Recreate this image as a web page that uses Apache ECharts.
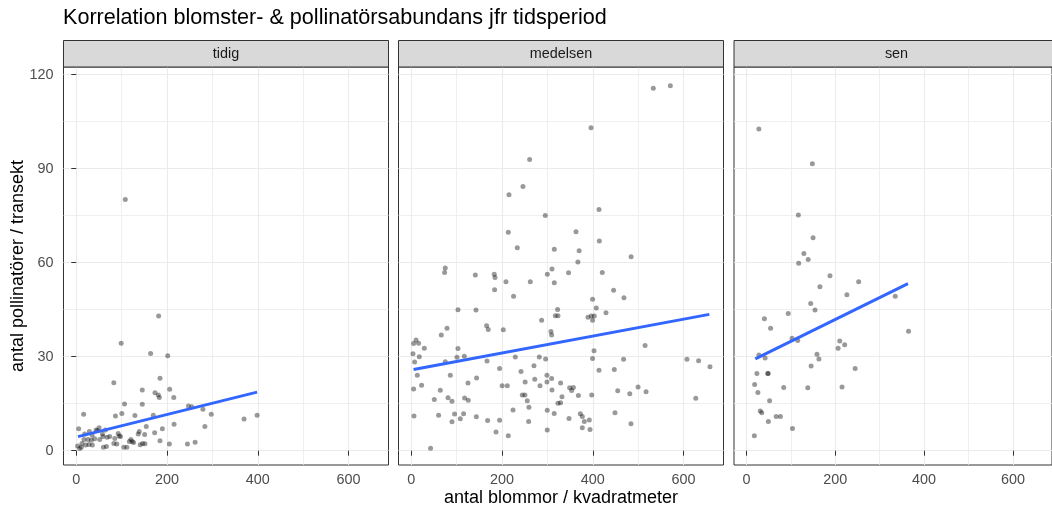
<!DOCTYPE html>
<html><head><meta charset="utf-8">
<script src="https://cdn.jsdelivr.net/npm/echarts@6/dist/echarts.min.js"></script>
<style>html,body{margin:0;padding:0;background:#fff}#c{width:1052px;height:512px}</style>
</head><body><div id="c"></div>
<script>
const panelNames = ['tidig', 'medelsen', 'sen'];
const xTicks = [0, 200, 400, 600];
const xMinor = [100, 300, 500];
const yTicks = [0, 30, 60, 90, 120];
const yMinor = [15, 45, 75, 105];

const tidigPoints = [[181.5,43.0],[98.9,34.3],[163.8,31.0],[201.5,30.3],[82.7,21.7],[184.5,23.1],[145.4,19.4],[205.9,19.6],[173.4,18.5],[180.8,17.8],[183,17.0],[214.8,17.0],[106.3,14.9],[145.4,14.8],[247.2,14.3],[254.6,14.0],[279,13.2],[297.4,11.6],[100.4,11.9],[86.3,11.1],[129.2,11.2],[16.2,11.6],[169.7,11.3],[369.7,10.1],[398.5,11.3],[283.4,7.7],[215.5,8.4],[189.7,7.0],[154.2,7.7],[5.2,7.0],[50.2,7.3],[43.5,6.6],[64.2,6.6],[28.8,6.1],[57.6,5.3],[73.8,4.5],[92.3,5.5],[94.5,4.7],[97.4,4.5],[120.3,3.6],[123.2,2.9],[126.2,2.6],[136.5,5.3],[138.7,6.1],[150.6,5.2],[172.7,5.7],[184.5,3.2],[205.2,2.1],[245,2.1],[261.9,2.7],[151.3,2.2],[140.9,1.9],[146.1,2.3],[104.8,1.1],[111.4,1.1],[59.8,1.1],[66.4,1.3],[82.7,2.3],[89.3,2.1],[35.4,1.8],[28,2.0],[20.7,1.8],[12.5,2.3],[3,1.5],[7.4,0.7],[11.1,1.1],[17,3.6],[25.8,3.6],[33.2,3.4],[40.6,3.8],[51.7,3.6],[59,4.5],[67.9,4.3],[84.9,3.9],[116.9,2.9],[18.5,5.3],[34.7,5.0],[46.5,6.4],[108,80.2]];

const medelsenPoints = [[260.8,92.9],[246.1,84.3],[215.3,81.7],[295.3,75.1],[213.8,69.7],[233.6,64.8],[315.2,64.3],[74.9,58.3],[310.1,58.0],
[533.4,115.7],[570.9,116.5],[396.1,103.1],[413.7,77.0],[363,69.9],[414.4,66.9],[369.9,63.8],[484.5,61.9],[367.2,60.2],
[73.4,56.9],[141.1,56.1],[182.9,56.3],[184.5,55.3],[208.7,53.9],[183.6,51.4],[262.3,53.9],[299.8,56.3],[315.2,53.6],[225.4,49.3],[102.9,45.0],[142.6,44.9],[78.7,39.1],[66.1,36.9],[166,39.9],[169.6,38.7],[202.8,38.6],[287.2,41.6],[322.5,45.1],[317.4,43.1],[323.3,43.1],[307.9,38.0],[309.3,36.9],[5.1,34.2],[10.4,35.3],[16.1,34.3],[28.7,32.7],[3.7,30.9],[17.6,30.0],[7.3,28.3],[13.2,24.1],[5.1,19.7],[22.7,20.9],[74.9,28.4],[102.9,32.6],[100.7,29.8],[116.8,30.1],[86,24.1],[166.9,28.6],[194.6,26.2],[229.2,29.9],[282.1,29.9],[296,29.3],[241.8,25.3],[270.4,27.1],[299,24.1],[309.3,23.0],[283.7,20.7],[299,21.9],[310.1,19.4],[329.1,21.6],[272.1,22.8],[250.9,21.9],[200.2,20.7],[211.6,20.7],[143.9,23.2],[125,21.6],[63.9,19.3],[80.9,16.9],[89.7,15.8],[50.7,16.3],[117.5,16.8],[125.6,16.1],[244.6,17.8],[250.5,17.8],[255.6,15.9],[259.3,13.9],[323.3,15.1],[329.1,15.3],[332.1,17.2],[299.6,12.9],[315,11.9],[224.2,13.0],[5.9,11.1],[60.2,11.3],[95.4,11.7],[115.3,11.8],[108,10.2],[89.7,9.2],[143.3,10.8],[168.2,9.6],[194.6,9.7],[186.7,6.0],[213.8,4.8],[258.6,9.3],[299.6,6.6],[42.5,0.8],
[346.6,56.8],[420.9,56.9],[445.8,51.2],[468.7,48.8],[399.5,48.3],[407.7,45.5],[429.1,44.0],[389.4,42.6],[396.7,43.0],[403.3,43.0],[399.5,41.6],[515.3,33.6],[402.7,31.9],[399.5,29.4],[467.9,29.2],[413.7,25.7],[447.4,25.9],[607.6,29.2],[633.2,28.7],[658.3,26.8],[627,16.7],[349,20.1],[357.2,20.2],[353.4,19.2],[368.3,17.6],[397.6,17.8],[455,19.1],[481.5,18.2],[499.8,20.3],[517.4,18.8],[448.9,12.1],[484.2,8.6],[347.6,10.3],[372.5,11.8],[376.9,10.9],[381.3,9.3],[392.3,9.8],[376.9,7.3],[393.9,6.8]];

const senPoints = [[27.8,102.7],[148.3,91.6],[116.8,75.2],[149.9,68.0],[129.2,62.9],[138.9,61.0],[117.5,59.8],[188,55.8],[252.6,53.9],[165.3,52.3],[226.1,49.8],[335,49.3],[144.6,47.0],[154.3,44.9],[93.9,43.8],[40.3,42.1],[54.2,39.1],[365,38.1],[102.7,35.9],[115.3,35.2],[210,35.0],[221.1,33.8],[206.3,32.7],[158.7,30.8],[163.1,29.3],[27.8,30.5],[41.9,29.6],[145.5,27.0],[244.7,26.2],[23.4,24.6],[47.6,24.6],[49,24.6],[18.3,21.1],[25.6,18.6],[83.8,20.2],[138,20.1],[215.1,20.3],[52,15.9],[30.9,12.7],[34.4,12.1],[66.8,10.9],[76.3,10.9],[49.2,9.3],[103.6,7.1],[17.6,4.8]];

const tidigFit = [[3.7,4.5],[398.5,18.7]];
const medelsenFit = [[5,25.9],[656.8,43.5]];
const senFit = [[19.8,29.3],[363.7,53.3]];

const pointsByPanel = [tidigPoints, medelsenPoints, senPoints];
const fitByPanel = [tidigFit, medelsenFit, senFit];

const FONT = '"Liberation Sans", Arial, Helvetica, sans-serif';
const lefts = [63.5, 398.5, 734];
const W = 325, TOP = 67, H = 398;
const XMIN = -28.2, XMAX = 688.1, YMIN = -4.57, YMAX = 122.46;
const GRID = '#EBEBEB';

const grid = [], xAxis = [], yAxis = [], series = [], graphic = [];
lefts.forEach((l, i) => {
  grid.push({left: l, top: TOP, width: W, height: H, show: true, borderColor: '#333', borderWidth: 1, backgroundColor: '#fff'});
  // major x axis
  xAxis.push({type: 'value', gridIndex: i, min: XMIN, max: XMAX, position: 'bottom',
    axisLine: {show: false},
    axisTick: {show: true, length: 5, lineStyle: {color: '#333', width: 1}, customValues: xTicks},
    axisLabel: {show: true, customValues: xTicks, margin: 8, color: '#4D4D4D', fontSize: 14.4, fontFamily: FONT},
    splitLine: {show: true, lineStyle: {color: GRID, width: 1.1}}
  });
  // minor x axis
  xAxis.push({type: 'value', gridIndex: i, min: XMIN, max: XMAX, position: 'top',
    axisLine: {show: false}, axisLabel: {show: false},
    axisTick: {show: false, customValues: xMinor},
    splitLine: {show: true, lineStyle: {color: GRID, width: 0.8}}
  });
  yAxis.push({type: 'value', gridIndex: i, min: YMIN, max: YMAX, position: 'left',
    axisLine: {show: false},
    axisTick: {show: i === 0, length: 5, lineStyle: {color: '#333', width: 1}, customValues: yTicks},
    axisLabel: {show: i === 0, customValues: yTicks, margin: 10, color: '#4D4D4D', fontSize: 14.4, fontFamily: FONT},
    splitLine: {show: true, lineStyle: {color: GRID, width: 1.1}}
  });
  yAxis.push({type: 'value', gridIndex: i, min: YMIN, max: YMAX, position: 'right',
    axisLine: {show: false}, axisLabel: {show: false},
    axisTick: {show: false, customValues: yMinor},
    splitLine: {show: true, lineStyle: {color: GRID, width: 0.8}}
  });
  series.push({type: 'scatter', xAxisIndex: 2 * i, yAxisIndex: 2 * i, data: pointsByPanel[i],
    symbolSize: 5, itemStyle: {color: 'rgba(0,0,0,0.5)'}, silent: true, z: 3});
  series.push({type: 'line', xAxisIndex: 2 * i, yAxisIndex: 2 * i, data: fitByPanel[i],
    showSymbol: false, symbol: 'none', lineStyle: {color: '#3366FF', width: 3}, silent: true, z: 4});
  graphic.push({type: 'rect', shape: {x: l, y: 40.5, width: W, height: 26.5},
    style: {fill: '#D9D9D9', stroke: '#333', lineWidth: 1}, z: 10});
  graphic.push({type: 'text', x: l + W / 2, y: 54,
    style: {text: panelNames[i], align: 'center', verticalAlign: 'middle', fontSize: 14.4, fill: '#1A1A1A', fontFamily: FONT}, z: 11});
});

graphic.push({type: 'text', x: 63, y: 18,
  style: {text: 'Korrelation blomster- & pollinatörsabundans jfr tidsperiod', align: 'left', verticalAlign: 'middle', fontSize: 21.6, fill: '#000', fontFamily: FONT}});
graphic.push({type: 'text', x: 561, y: 498,
  style: {text: 'antal blommor / kvadratmeter', align: 'center', verticalAlign: 'middle', fontSize: 18, fill: '#000', fontFamily: FONT}});
graphic.push({type: 'text', x: 18, y: 266, rotation: Math.PI / 2,
  style: {text: 'antal pollinatörer / transekt', align: 'center', verticalAlign: 'middle', fontSize: 18, fill: '#000', fontFamily: FONT}});

const chart = echarts.init(document.getElementById('c'), null, {renderer: 'canvas'});
chart.setOption({animation: false, backgroundColor: '#fff', grid, xAxis, yAxis, series, graphic});
</script>
</body></html>
